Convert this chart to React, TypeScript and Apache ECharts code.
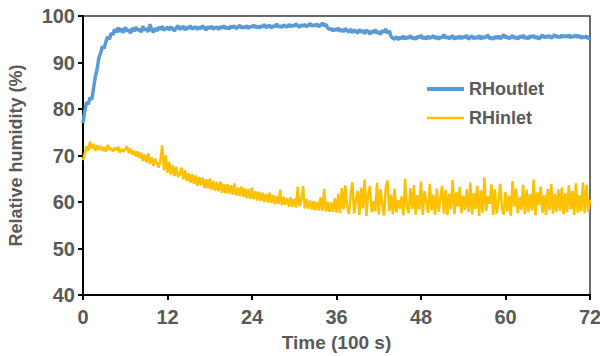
import React, { useEffect, useRef } from "react";
import * as echarts from "echarts";

const timeStep = 0.25; // 100 s units between samples
const xTicks = { min: 0, max: 72, interval: 12 };
const yTicks = { min: 40, max: 100, interval: 10 };
const seriesNames = ["RHoutlet", "RHinlet"];

const rhOutlet = [
  77.0, 79.5, 81.5, 81.0, 82.5,
  82.0, 84.5, 87.0, 88.5, 91.0, 92.0, 93.5, 93.0, 94.5, 95.5, 95.0, 96.3,
  96.0, 97.2, 96.5, 97.5, 96.6, 97.3, 96.4, 97.6, 96.8, 97.0, 96.3, 97.4,
  96.7, 97.6, 96.9, 97.2, 96.5, 97.8, 96.9, 97.3, 96.6, 98.2, 97.0, 96.5,
  97.4, 96.8, 97.6, 97.1, 97.8, 96.9, 97.3, 97.6, 97.0, 97.7, 97.2, 96.8,
  97.5, 97.9, 97.1, 97.4, 97.8, 97.0, 97.6, 97.3, 97.9, 97.2, 97.5, 97.7,
  97.1, 97.6, 97.3, 97.9, 97.4, 97.0, 97.7, 97.3, 97.8, 97.2, 97.5, 97.6,
  97.1, 97.7, 97.4, 97.9, 97.3, 97.6, 97.2, 97.8, 97.5, 97.9, 97.3, 97.6,
  98.0, 97.4, 97.7, 97.5, 97.9, 97.3, 97.8, 97.6, 98.1, 97.5, 97.8, 97.4,
  97.9, 97.6, 98.2, 97.5, 97.8, 98.0, 97.4, 97.9, 97.7, 98.3, 97.6, 97.9,
  97.5, 98.1, 97.8, 97.6, 98.2, 97.7, 98.0, 97.8, 98.3, 97.9, 97.6, 98.1,
  97.8, 98.2, 97.7, 98.0, 98.4, 97.8, 98.1, 97.9, 98.3, 97.7, 98.0, 98.5,
  97.9, 98.2, 97.4, 97.1, 97.3, 96.8, 97.2, 96.9, 97.4, 96.7, 97.1, 96.6,
  97.3, 96.9, 96.5, 97.2, 96.4, 97.0, 96.7, 96.3, 97.1, 96.5, 96.9, 96.2,
  97.0, 96.6, 96.1, 96.8, 96.4, 97.1, 96.3, 96.7, 96.0, 96.9, 96.5, 97.2,
  96.3, 96.8, 95.6, 95.2, 95.0, 95.6, 94.9, 95.4, 95.1, 95.7, 95.0, 95.5,
  95.2, 95.8, 95.1, 95.4, 95.0, 95.6, 95.3, 95.9, 95.1, 95.5, 95.0, 95.7,
  95.2, 95.4, 95.8, 95.1, 95.6, 95.0, 95.5, 95.3, 96.0, 95.2, 95.6, 95.1,
  95.4, 95.8, 95.0, 95.5, 95.2, 95.7, 95.1, 95.6, 95.3, 95.9, 95.0, 95.4,
  95.7, 95.1, 95.5, 95.2, 95.8, 95.0, 95.6, 95.3, 95.5, 95.9, 95.1, 95.4,
  95.0, 95.6, 95.2, 95.7, 95.1, 95.5, 96.0, 95.3, 95.6, 95.1, 95.4, 95.8,
  95.2, 95.5, 95.0, 95.7, 95.3, 95.9, 95.2, 95.5, 95.1, 95.7, 95.4, 95.8,
  95.2, 95.6, 95.0, 95.5, 95.9, 95.3, 95.7, 95.4, 95.8, 95.2, 95.6, 96.0,
  95.4, 95.7, 95.3, 95.9, 95.5, 95.8, 95.4, 96.0, 95.3, 95.7, 95.5, 95.9,
  95.4, 95.8, 95.2, 95.6, 95.3, 95.7, 95.1, 95.4,
];

const rhInlet = [
  69.0, 70.5, 72.0, 71.0, 73.0,
  71.5, 72.5, 71.0, 72.2, 71.3, 72.0, 71.0, 71.8, 70.8, 72.3, 71.2, 71.6,
  70.9, 71.7, 71.1, 71.9, 70.6, 71.4, 70.8, 71.3, 72.0, 70.5, 71.5, 70.2,
  71.0, 69.8, 70.9, 69.5, 70.6, 68.8, 70.2, 68.5, 70.5, 68.2, 69.6, 67.8,
  69.3, 68.5, 67.4, 69.0, 72.2, 66.8, 70.0, 66.3, 68.6, 65.9, 67.9, 65.6,
  67.6, 65.4, 66.0, 67.4, 64.9, 66.8, 64.5, 66.2, 64.2, 66.0, 63.9, 65.7,
  63.5, 65.4, 63.6, 65.2, 63.0, 64.9, 62.9, 65.0, 62.7, 64.5, 62.4, 64.3,
  62.3, 64.4, 62.0, 63.9, 61.9, 63.8, 61.8, 63.6, 61.6, 64.0, 61.4, 63.1,
  61.3, 63.3, 61.1, 62.9, 60.8, 62.8, 60.7, 63.1, 60.6, 62.3, 60.3, 62.2,
  60.2, 62.0, 60.0, 61.7, 59.9, 62.0, 59.8, 61.5, 59.5, 61.3, 59.6, 62.6,
  59.3, 61.1, 59.4, 60.8, 59.0, 61.0, 58.9, 60.7, 58.8, 63.3, 59.1, 60.5,
  63.4, 58.6, 60.6, 58.6, 60.3, 58.4, 60.2, 58.3, 60.0, 58.2, 61.0, 58.1,
  62.8, 58.0, 60.0, 57.9, 59.9, 57.9, 60.8, 57.7, 61.8, 57.6, 63.0, 58.4,
  63.6, 59.2, 57.4, 61.2, 64.3, 57.5, 60.1, 62.4, 57.2, 63.1, 58.6, 64.8,
  57.0, 61.8, 63.4, 57.8, 60.2, 58.0, 64.1, 57.3, 62.8, 59.5, 57.1, 63.2,
  64.6, 58.0, 61.6, 57.4, 62.9, 57.8, 60.4, 58.6, 61.2, 57.1, 65.0, 59.0,
  57.6, 63.0, 58.5, 63.6, 57.3, 61.5, 58.4, 64.4, 57.2, 62.3, 60.0, 57.7,
  63.9, 58.2, 61.6, 57.3, 62.9, 57.9, 60.8, 63.5, 57.5, 62.6, 57.2, 61.8,
  58.4, 64.7, 57.4, 62.1, 59.0, 63.2, 57.6, 61.3, 58.3, 62.7, 57.8, 64.2,
  57.3, 61.9, 58.5, 63.4, 57.0, 62.5, 57.7, 65.3, 58.1, 61.2, 59.6, 63.8,
  57.2, 62.7, 57.5, 60.2, 63.9, 58.6, 57.3, 62.2, 58.0, 61.4, 57.0, 64.5,
  59.0, 62.9, 57.6, 61.1, 58.3, 63.7, 57.4, 62.6, 57.8, 61.7, 58.2, 64.8,
  57.1, 62.1, 59.4, 63.3, 57.6, 61.5, 57.2, 62.8, 58.3, 63.9, 57.5, 61.8,
  57.9, 62.7, 58.1, 63.1, 57.4, 61.9, 57.8, 63.6, 58.4, 62.4, 57.2, 64.0,
  57.7, 61.4, 58.0, 64.2, 57.6, 63.7, 57.9, 60.5,
];

const toPairs = (vals: number[]) => vals.map((v, i) => [i * timeStep, v]);

const gray = "#595959";
const font = "Arial, 'Liberation Sans', sans-serif";

export default function App() {
  const ref = useRef<HTMLDivElement>(null);
  useEffect(() => {
    document.body.style.margin = "0";
    if (!ref.current) return;
    const chart = echarts.init(ref.current, undefined, { renderer: "svg" });
    chart.setOption({
      animation: false,
      backgroundColor: "#ffffff",
      grid: {
        left: 83,
        right: 10,
        top: 16,
        bottom: 61,
        outerBoundsMode: "none",
        containLabel: false,
        show: true,
        borderColor: "#3a3a3a",
        borderWidth: 1.5,
        backgroundColor: "transparent",
      },
      legend: {
        orient: "vertical",
        left: 420,
        top: 75,
        itemWidth: 37,
        itemHeight: 14,
        itemGap: 11,
        itemStyle: { opacity: 0 },
        textStyle: { color: gray, fontSize: 18, fontWeight: "bold", fontFamily: font },
        data: [
          { name: seriesNames[0], lineStyle: { width: 4 } },
          { name: seriesNames[1], lineStyle: { width: 2.5 } },
        ],
      },
      xAxis: {
        type: "value",
        min: xTicks.min,
        max: xTicks.max,
        interval: xTicks.interval,
        name: "Time (100 s)",
        nameLocation: "middle",
        nameGap: 38,
        nameTextStyle: { color: gray, fontSize: 19, fontWeight: "bold", fontFamily: font },
        axisLine: { show: true, lineStyle: { color: "#000", width: 2 } },
        axisTick: { show: true, inside: false, length: 5, lineStyle: { color: "#000", width: 2 } },
        axisLabel: { color: gray, fontSize: 20, fontWeight: "bold", fontFamily: font, margin: 12 },
        splitLine: { show: false },
      },
      yAxis: {
        type: "value",
        min: yTicks.min,
        max: yTicks.max,
        interval: yTicks.interval,
        name: "Relative humidity (%)",
        nameLocation: "middle",
        nameGap: 58,
        nameTextStyle: { color: gray, fontSize: 18, fontWeight: "bold", fontFamily: font },
        axisLine: { show: true, lineStyle: { color: "#000", width: 2 } },
        axisTick: { show: true, inside: false, length: 5, lineStyle: { color: "#000", width: 2 } },
        axisLabel: { color: gray, fontSize: 20, fontWeight: "bold", fontFamily: font, margin: 8 },
        splitLine: { show: false },
      },
      series: [
        {
          name: seriesNames[0],
          type: "line",
          data: toPairs(rhOutlet),
          symbol: "none",
          color: "#5B9BD5",
          lineStyle: { color: "#5B9BD5", width: 3.5 },
          z: 3,
        },
        {
          name: seriesNames[1],
          type: "line",
          data: toPairs(rhInlet),
          symbol: "none",
          color: "#FFC000",
          lineStyle: { color: "#FFC000", width: 2.5 },
          z: 2,
        },
      ],
    });
    return () => chart.dispose();
  }, []);
  return <div ref={ref} style={{ width: 600, height: 356 }} />;
}
